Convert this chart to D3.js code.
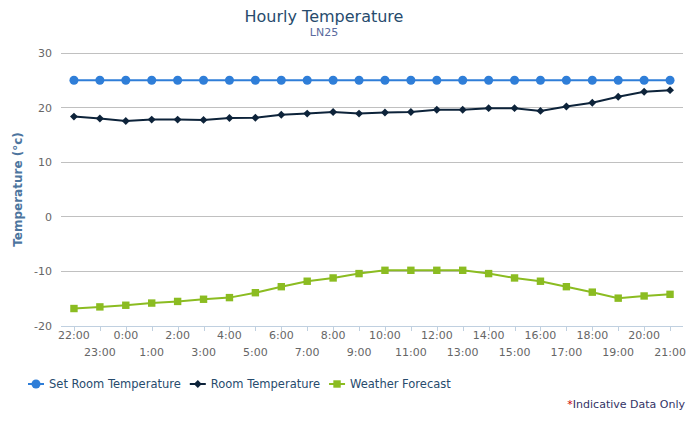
<!DOCTYPE html>
<html>
<head>
<meta charset="utf-8">
<script src="https://cdn.jsdelivr.net/npm/d3@7"></script>
<style>
  body { margin: 0; background: #fff; }
  svg { font-family: "DejaVu Sans", Verdana, Arial, sans-serif; }
</style>
</head>
<body>
<div id="chart"></div>
<script>
// Chart data
const hours = ['22:00', '23:00', '0:00', '1:00', '2:00', '3:00', '4:00', '5:00', '6:00', '7:00', '8:00', '9:00',
    '10:00', '11:00', '12:00', '13:00', '14:00', '15:00', '16:00', '17:00', '18:00', '19:00', '20:00', '21:00'];
const setRoomTemp = [25, 25, 25, 25, 25, 25, 25, 25, 25, 25, 25, 25, 25, 25, 25, 25, 25, 25, 25, 25, 25, 25, 25, 25];
const roomTemp = [18.35, 18.0, 17.55, 17.8, 17.8, 17.75, 18.1, 18.15, 18.7, 18.9, 19.2, 18.9,
    19.1, 19.2, 19.6, 19.6, 19.9, 19.9, 19.4, 20.2, 20.9, 22.0, 22.9, 23.2];
const weatherForecast = [-16.8, -16.5, -16.2, -15.8, -15.5, -15.1, -14.8, -13.9, -12.8, -11.8, -11.2, -10.4,
    -9.8, -9.8, -9.8, -9.8, -10.4, -11.2, -11.8, -12.8, -13.8, -14.9, -14.5, -14.2];
const yTicks = [-20, -10, 0, 10, 20, 30];

const seriesList = [
    { name: 'Set Room Temperature', values: setRoomTemp, color: '#2f7ed8', symbol: d3.symbolCircle, size: 64 },
    { name: 'Room Temperature', values: roomTemp, color: '#0d233a', symbol: d3.symbolDiamond2, size: 40 },
    { name: 'Weather Forecast', values: weatherForecast, color: '#8bbc21', symbol: d3.symbolSquare2, size: 70 }
];

const width = 690, height = 437;
const margin = { top: 53, right: 7, bottom: 111, left: 61 };
const plotW = width - margin.left - margin.right;
const plotH = height - margin.top - margin.bottom;

const svg = d3.select('#chart').append('svg')
    .attr('width', width)
    .attr('height', height);

// Title + subtitle
svg.append('text')
    .attr('x', 324).attr('y', 22)
    .attr('text-anchor', 'middle')
    .style('font-size', '16px')
    .style('fill', '#274b6d')
    .text('Hourly Temperature');

svg.append('text')
    .attr('x', 324).attr('y', 36)
    .attr('text-anchor', 'middle')
    .style('font-size', '11px')
    .style('fill', '#5a6a9e')
    .text('LN25');

const g = svg.append('g').attr('transform', `translate(${margin.left},${margin.top})`);

const x = d3.scaleBand().domain(hours).range([0, plotW]);
const y = d3.scaleLinear().domain([-20, 30]).range([plotH, 0]);
const cx = d => x(d) + x.bandwidth() / 2;

// Grid lines
g.append('g')
    .selectAll('line')
    .data(yTicks.filter(t => t !== -20))
    .enter()
    .append('line')
    .attr('x1', 0).attr('x2', plotW)
    .attr('y1', d => y(d)).attr('y2', d => y(d))
    .attr('stroke', '#c0c0c0')
    .attr('stroke-width', 1)
    .attr('shape-rendering', 'crispEdges');

// Y axis labels
g.append('g')
    .selectAll('text')
    .data(yTicks)
    .enter()
    .append('text')
    .attr('x', -9)
    .attr('y', d => y(d) + 4)
    .attr('text-anchor', 'end')
    .style('font-size', '11px')
    .style('fill', '#666')
    .text(d => d);

// Y axis title
svg.append('text')
    .attr('transform', `translate(22,${margin.top + plotH / 2}) rotate(-90)`)
    .attr('text-anchor', 'middle')
    .style('font-size', '12px')
    .style('font-weight', 'bold')
    .style('fill', '#4d759e')
    .text('Temperature (°c)');

// X axis line and ticks
const xAxis = g.append('g').attr('transform', `translate(0,${plotH})`);
xAxis.append('line')
    .attr('x1', 0).attr('x2', plotW)
    .attr('y1', 0.5).attr('y2', 0.5)
    .attr('stroke', '#c0d0e0');

xAxis.selectAll('.tick')
    .data(hours)
    .enter()
    .append('line')
    .attr('class', 'tick')
    .attr('x1', d => Math.round(cx(d)) + 0.5).attr('x2', d => Math.round(cx(d)) + 0.5)
    .attr('y1', 0).attr('y2', 5)
    .attr('stroke', '#c0d0e0');

xAxis.selectAll('.lbl')
    .data(hours)
    .enter()
    .append('text')
    .attr('class', 'lbl')
    .attr('x', d => cx(d))
    .attr('y', (d, i) => i % 2 === 0 ? 13 : 30)
    .attr('text-anchor', 'middle')
    .style('font-size', '11px')
    .style('fill', '#666')
    .text(d => d);

// Series lines and markers
const line = d3.line()
    .x((d, i) => cx(hours[i]))
    .y(d => y(d));

seriesList.forEach(s => {
    g.append('path')
        .datum(s.values)
        .attr('fill', 'none')
        .attr('stroke', s.color)
        .attr('stroke-width', 2)
        .attr('d', line);

    g.append('g')
        .selectAll('path')
        .data(s.values)
        .enter()
        .append('path')
        .attr('transform', (d, i) => `translate(${cx(hours[i])},${y(d)})`)
        .attr('d', d3.symbol().type(s.symbol).size(s.size))
        .attr('fill', s.color);
});

// Legend
const legend = svg.append('g').attr('transform', 'translate(28,384)');
let lx = 0;
seriesList.forEach(s => {
    const item = legend.append('g').attr('transform', `translate(${lx},0)`);
    item.append('line')
        .attr('x1', 0).attr('x2', 16)
        .attr('y1', 0).attr('y2', 0)
        .attr('stroke', s.color)
        .attr('stroke-width', 2);
    item.append('path')
        .attr('transform', 'translate(8,0)')
        .attr('d', d3.symbol().type(s.symbol).size(s.size))
        .attr('fill', s.color);
    const t = item.append('text')
        .attr('x', 21).attr('y', 4)
        .style('font-size', '11.5px')
        .style('fill', '#274b6d')
        .text(s.name);
    lx += 21 + t.node().getComputedTextLength() + 9;
});

// Footnote
const note = svg.append('text')
    .attr('x', 685).attr('y', 408)
    .attr('text-anchor', 'end')
    .style('font-size', '11px')
    .style('fill', '#333366');
note.append('tspan').style('fill', '#cc0000').text('*');
note.append('tspan').text('Indicative Data Only');
</script>
</body>
</html>
